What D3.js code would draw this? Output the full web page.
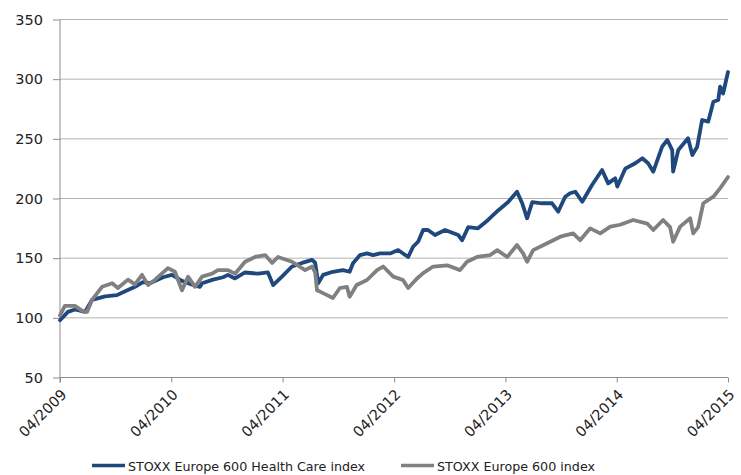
<!DOCTYPE html>
<html><head><meta charset="utf-8">
<script src="https://cdn.jsdelivr.net/npm/d3@7"></script>
<style>body{margin:0;background:#fff}svg{display:block}text{font-family:"DejaVu Sans",Verdana,sans-serif}</style>
</head><body><svg id="c" width="741" height="475"></svg>
<script>
const seriesNames = ["STOXX Europe 600 Health Care index", "STOXX Europe 600 index"];
const seriesColors = ["#1f497d", "#808080"];
const yTicks = [50, 100, 150, 200, 250, 300, 350];
const xTickLabels = ["04/2009","04/2010","04/2011","04/2012","04/2013","04/2014","04/2015"];

const healthDates = ["2009-04-01","2009-04-27","2009-05-20","2009-06-22","2009-07-15","2009-08-27","2009-10-05","2009-10-21","2009-12-03","2009-12-29","2010-01-21","2010-03-05","2010-04-03","2010-05-06","2010-06-18","2010-07-04","2010-07-11","2010-08-16","2010-09-18","2010-10-04","2010-10-27","2010-11-29","2011-01-11","2011-02-12","2011-03-01","2011-03-30","2011-05-02","2011-06-04","2011-07-07","2011-07-17","2011-07-27","2011-08-12","2011-09-13","2011-10-16","2011-11-07","2011-11-18","2011-12-11","2012-01-03","2012-01-23","2012-02-15","2012-03-19","2012-04-14","2012-05-17","2012-06-02","2012-06-19","2012-07-05","2012-07-21","2012-08-13","2012-09-15","2012-10-28","2012-11-10","2012-11-30","2013-01-01","2013-02-03","2013-03-08","2013-04-10","2013-05-09","2013-05-26","2013-06-11","2013-06-28","2013-07-30","2013-09-01","2013-09-21","2013-10-14","2013-10-30","2013-11-16","2013-12-09","2014-01-10","2014-02-12","2014-03-04","2014-03-27","2014-04-03","2014-04-29","2014-06-01","2014-06-24","2014-07-13","2014-07-30","2014-08-28","2014-09-14","2014-09-30","2014-10-03","2014-10-20","2014-11-21","2014-12-05","2014-12-21","2015-01-06","2015-01-26","2015-02-12","2015-02-28","2015-03-06","2015-03-16","2015-04-01"];
const healthValues = [98,105,107,105,115,118,119,121,126,130,129,134,136,131,127,126,129,132,134,136,133,138,137,138,127.5,134.5,143,146,148.6,146,129,136,138.6,140,138.6,145.7,152.6,154,152.6,154,154,156.8,151,159.6,164,173.6,173.6,169.4,173.6,169.4,165,176,175,182,190,197,205.7,196,183.4,197,196,196,189,201.5,204.4,205.7,197.3,211.3,223.9,212.7,216.9,210,225,229.5,233.7,229.5,222.5,243.4,249,240.6,222.5,240.6,250.5,236.4,243.4,265.8,264.4,281,282.5,293.7,288,306];

const marketDates = ["2009-04-01","2009-04-17","2009-05-20","2009-06-12","2009-06-29","2009-07-15","2009-08-17","2009-09-19","2009-10-08","2009-11-10","2009-12-03","2009-12-26","2010-01-15","2010-02-07","2010-03-21","2010-04-13","2010-05-06","2010-05-26","2010-06-18","2010-07-11","2010-08-13","2010-09-01","2010-10-04","2010-10-27","2010-11-29","2011-01-01","2011-02-03","2011-02-26","2011-03-17","2011-05-02","2011-06-14","2011-07-07","2011-07-17","2011-07-23","2011-08-02","2011-08-25","2011-09-13","2011-10-06","2011-10-29","2011-11-07","2011-11-30","2012-01-03","2012-02-05","2012-02-25","2012-03-29","2012-04-30","2012-05-17","2012-06-15","2012-07-05","2012-08-07","2012-09-22","2012-11-03","2012-11-26","2012-12-29","2013-02-10","2013-03-05","2013-04-07","2013-05-09","2013-05-29","2013-06-11","2013-07-01","2013-08-16","2013-09-28","2013-11-09","2013-12-02","2014-01-04","2014-02-06","2014-03-11","2014-04-12","2014-05-25","2014-07-10","2014-07-30","2014-08-31","2014-09-23","2014-10-03","2014-10-26","2014-11-28","2014-12-08","2014-12-24","2015-01-10","2015-02-12","2015-03-06","2015-04-01"];
const marketValues = [102,110,110,106,105,115,126,129,125,132,128,136,127.5,132,141.7,138.6,123,134.5,126,134.5,137,140,140,137,147,151,152.6,146,151,147,140,143,138,123,122,119,116.6,125,126,117.7,127.5,131.7,140,143,134.5,131.7,125,133,137.5,143,144,140,147,151,152.6,156.7,151,161,154,147,156.7,162.5,168,170.8,165,175,170.8,176.4,178,182,179,173.6,182,176,163.8,176.4,183.4,170.8,176,196,201.5,208.5,218];

const parse = d3.timeParse("%Y-%m-%d");
const health = healthDates.map((d,i)=>({date:parse(d), v:healthValues[i]}));
const market = marketDates.map((d,i)=>({date:parse(d), v:marketValues[i]}));

const svg = d3.select("#c");
const L = 60, R = 728, T = 19.5, B = 377.5;
const x = d3.scaleTime().domain([parse("2009-04-01"), parse("2015-04-01")]).range([L, R]);
const y = d3.scaleLinear().domain([50, 350]).range([B, T]);
const xTickDates = xTickLabels.map(s => d3.timeParse("%m/%Y")(s));

// gridlines
svg.append("g").selectAll("line").data(yTicks.filter(t=>t>50)).join("line")
  .attr("x1", L).attr("x2", R).attr("y1", d=>y(d)).attr("y2", d=>y(d))
  .attr("stroke", "#b3b3b3").attr("stroke-width", 1);

// y axis
const yAxis = svg.append("g").attr("transform", `translate(${L},0)`)
  .call(d3.axisLeft(y).tickValues(yTicks).tickSize(7).tickPadding(10).tickFormat(d3.format("d")));
yAxis.select(".domain").attr("d", `M0,${T}V${B+5}`).attr("stroke", "#8c8c8c");
yAxis.selectAll(".tick line").attr("stroke", "#8c8c8c");
yAxis.selectAll("text").attr("font-size", 14.5).attr("fill", "#222");

// x axis
const xAxis = svg.append("g").attr("transform", `translate(0,${B})`)
  .call(d3.axisBottom(x).tickValues(xTickDates).tickSize(5).tickFormat((d,i)=>xTickLabels[i]));
xAxis.select(".domain").attr("d", `M${L},0H${R}`).attr("stroke", "#8c8c8c");
xAxis.selectAll(".tick line").attr("stroke", "#8c8c8c");
xAxis.selectAll("text").attr("font-size", 14.5).attr("fill", "#222")
  .attr("text-anchor", "end").attr("dy", 0).attr("y", 0)
  .attr("transform", "translate(7,18) rotate(-45)");

const line = d3.line().x(d=>x(d.date)).y(d=>y(d.v));
svg.append("path").datum(health).attr("d", line).attr("fill","none")
  .attr("stroke", seriesColors[0]).attr("stroke-width", 3.8).attr("stroke-linejoin","round").attr("stroke-linecap","round");
svg.append("path").datum(market).attr("d", line).attr("fill","none")
  .attr("stroke", seriesColors[1]).attr("stroke-width", 3.8).attr("stroke-linejoin","round").attr("stroke-linecap","round");

// legend
const legX = [92, 401];
const lg = svg.append("g").selectAll("g").data(seriesNames).join("g")
  .attr("transform", (d,i)=>`translate(${legX[i]},465.5)`);
lg.append("line").attr("x1",0).attr("x2",33).attr("y1",0).attr("y2",0)
  .attr("stroke",(d,i)=>seriesColors[i]).attr("stroke-width",3.6);
lg.append("text").attr("x",36).attr("y",5).attr("font-size",12.7).attr("fill","#222").text(d=>d);
</script></body></html>
